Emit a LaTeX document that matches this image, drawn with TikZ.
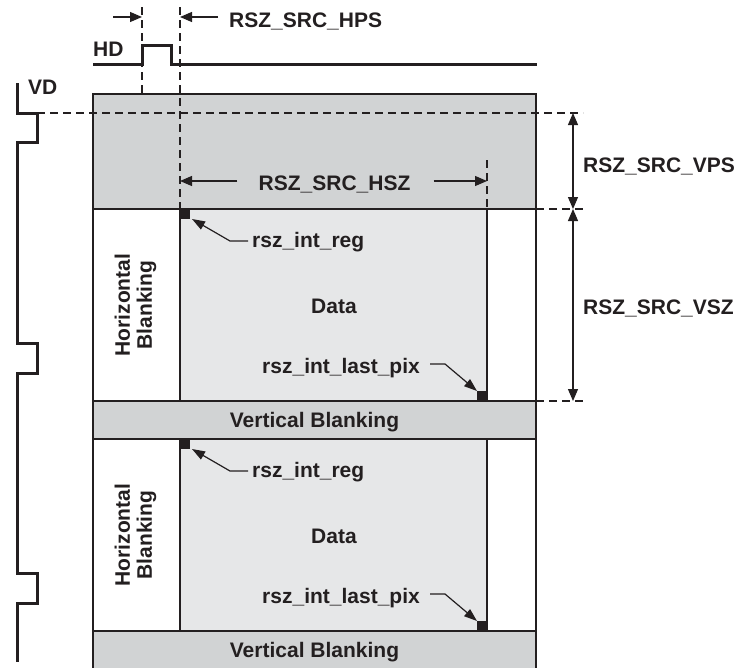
\documentclass[tikz,border=0pt]{standalone}
\usepackage{fontspec}
\setmainfont{Liberation Sans}
\usetikzlibrary{arrows.meta}
\definecolor{ink}{HTML}{231F20}
\definecolor{bandgray}{HTML}{D1D3D4}
\definecolor{datagray}{HTML}{E6E7E8}
\begin{document}
\begin{tikzpicture}[x=1pt,y=-1pt,
  lbl/.style={font=\fontsize{21}{22}\selectfont\bfseries, text=ink, inner sep=0pt},
  sig/.style={line width=3pt, draw=ink, line join=miter},
  frameline/.style={line width=2.5pt, draw=ink},
  divline/.style={line width=2pt, draw=ink},
  dimarrow/.style={line width=1.2pt, draw=ink, -{Triangle[length=12pt,width=10pt]}},
  dimboth/.style={line width=1.2pt, draw=ink, {Triangle[length=12pt,width=10pt]}-{Triangle[length=12pt,width=10pt]}},
  guide/.style={line width=1.1pt, draw=ink, dash pattern=on 8pt off 5pt},
  ptr/.style={line width=1.2pt, draw=ink, -{Triangle[length=13pt,width=9pt]}},
  pix/.style={fill=ink, draw=none}
]
\useasboundingbox (0,0) rectangle (738,667);
\begin{scope}
\clip (0,0) rectangle (738,667);
% ---------- fills
\fill[bandgray] (93,94) rectangle (536,209);
\fill[bandgray] (93,401) rectangle (536,439);
\fill[bandgray] (93,631) rectangle (536,680);
\fill[datagray] (180,209) rectangle (487,401);
\fill[datagray] (180,439) rectangle (487,631);
% ---------- guides
\draw[guide] (142,7) -- (142,94);
\draw[guide] (180,7) -- (180,209);
\draw[guide] (37,113) -- (583,113);
\draw[guide] (536,209) -- (583,209);
\draw[guide] (536,401) -- (583,401);
\draw[guide] (487,160) -- (487,209);
% ---------- frame and dividers
\draw[divline] (180,209) -- (180,401) (487,209) -- (487,401);
\draw[divline] (180,439) -- (180,631) (487,439) -- (487,631);
\draw[divline] (93,209) -- (536,209);
\draw[divline] (93,401) -- (536,401);
\draw[divline] (93,439) -- (536,439);
\draw[divline] (93,631) -- (536,631);
\draw[frameline] (93,690) -- (93,94) -- (536,94) -- (536,690);
% ---------- pixel markers
\fill[pix] (180,209) rectangle (190,219);
\fill[pix] (477,391) rectangle (487,401);
\fill[pix] (180,439) rectangle (190,449);
\fill[pix] (477,621) rectangle (487,631);
% ---------- signals
\draw[sig] (93,64) -- (142,64) -- (142,45) -- (171,45) -- (171,64) -- (537,64);
\draw[sig] (17,83) -- (17,113) -- (37,113) -- (37,142) -- (17,142)
  -- (17,343) -- (37,343) -- (37,373) -- (17,373)
  -- (17,573) -- (37,573) -- (37,603) -- (17,603) -- (17,662);
\end{scope}
% ---------- labels
\node[lbl, anchor=base west] (hd) at (93,56) {HD};
\node[lbl, anchor=base west] (vd) at (28,94) {VD};
\node[lbl, anchor=base west] (hps) at (229,27) {RSZ\_SRC\_HPS};
\node[lbl, anchor=base] (hsz) at (334.5,190) {RSZ\_SRC\_HSZ};
\node[lbl, anchor=base west] (vps) at (583,172) {RSZ\_SRC\_VPS};
\node[lbl, anchor=base west] (vsz) at (583,314) {RSZ\_SRC\_VSZ};
\node[lbl, anchor=base] (vb1) at (314.5,427) {Vertical Blanking};
\node[lbl, anchor=base] (vb2) at (314.5,657) {Vertical Blanking};
\foreach \o/\n in {0/a,230/b}{
  \node[lbl, rotate=90, align=center] (hb\n) at (135.5,305+\o) {Horizontal\\Blanking};
  \node[lbl, anchor=base] (data\n) at (334,313+\o) {Data};
  \node[lbl, anchor=base west] (reg\n) at (252,247+\o) {rsz\_int\_reg};
  \node[lbl, anchor=base east] (last\n) at (420,373+\o) {rsz\_int\_last\_pix};
  \coordinate (regtip\n) at (192,219+\o);
  \coordinate (lasttip\n) at (477,391+\o);
  \draw[ptr] ([xshift=-4pt,yshift=6pt]reg\n.base west) -- ++(-18,0) -- (regtip\n);
  \draw[ptr] ([xshift=10pt,yshift=9pt]last\n.base east) -- ++(15,0) -- (lasttip\n);
}
% ---------- dimension arrows
\coordinate (hpsA) at (113,17);
\coordinate (hpsB) at (142,17);
\coordinate (hpsC) at (218,17);
\coordinate (hpsD) at (180,17);
\draw[dimarrow] (hpsA) -- (hpsB);
\draw[dimarrow] (hpsC) -- (hpsD);
\coordinate (hszL) at (180,181);
\coordinate (hszR) at (487,181);
\draw[dimarrow] ([xshift=-21pt]hsz.base west |- hszL) -- (hszL);
\draw[dimarrow] ([xshift=23pt]hsz.base east |- hszR) -- (hszR);
\coordinate (vpsT) at (573,113);
\coordinate (vpsB) at (573,209);
\coordinate (vszB) at (573,401);
\draw[dimboth] (vpsT) -- (vpsB);
\draw[dimboth] (vpsB) -- (vszB);
\end{tikzpicture}
\end{document}
